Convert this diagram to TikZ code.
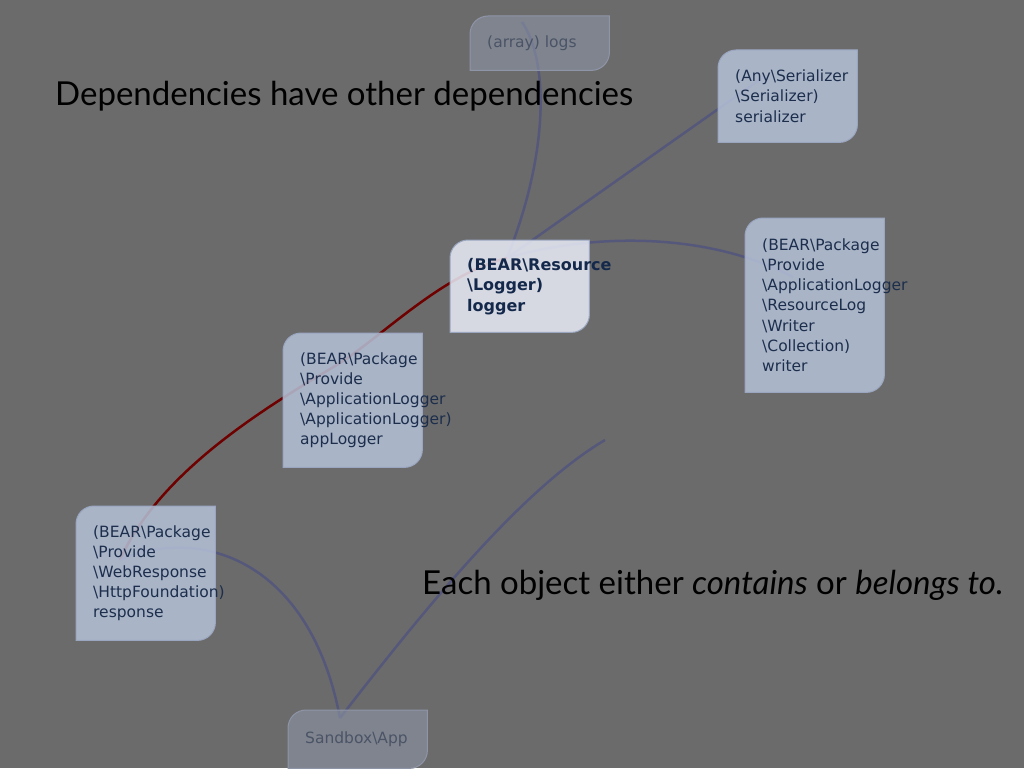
\documentclass[tikz,border=0pt]{standalone}
\usepackage{fontspec}
\setmainfont{DejaVu Sans}
\newfontfamily\headfont{Lato}
\newcommand{\bsl}{\textbackslash}
\hyphenpenalty=10000
\exhyphenpenalty=10000

\definecolor{slide}{HTML}{6B6B6B}
\definecolor{objfill}{HTML}{B5C1D8}
\definecolor{hotfill}{HTML}{E9ECF7}
\definecolor{fadefill}{HTML}{8E95A7}
\definecolor{objedge}{HTML}{9AA6C0}
\definecolor{objtext}{HTML}{1C2E4C}
\definecolor{hottext}{HTML}{13284A}
\definecolor{fadetext}{HTML}{4A5466}
\definecolor{depline}{HTML}{55587A}
\definecolor{hotline}{HTML}{6E0000}

\pgfdeclarelayer{bgl}
\pgfdeclarelayer{edges}
\pgfdeclarelayer{boxes}
\pgfsetlayers{bgl,edges,boxes,main}

\begin{document}
\begin{tikzpicture}[x=1pt, y=-1pt,
    obj/.style={anchor=north west, minimum width=139pt, text width=105pt,
        inner xsep=17pt, inner ysep=0pt, align=flush left, text=objtext,
        font=\fontsize{15.5}{20.2}\selectfont},
    hotobj/.style={obj, text=hottext, font=\fontsize{16}{20.5}\selectfont\bfseries},
    fadeobj/.style={obj, text=fadetext},
    objbox/.style={fill=objfill, fill opacity=0.85, draw=objedge, line width=1pt},
    hotbox/.style={objbox, fill=hotfill},
    fadebox/.style={objbox, fill=fadefill, fill opacity=0.6, draw=fadefill},
    heading/.style={anchor=base west, inner sep=0pt, font=\headfont\fontsize{33}{40}\selectfont},
    dep/.style={draw=depline, line width=2.5pt},
    hot/.style={draw=hotline, line width=2.5pt},
]
    \useasboundingbox (0,0) rectangle (1024,768);
    \begin{pgfonlayer}{bgl}
        \fill[slide] (0,0) rectangle (1024,768);
    \end{pgfonlayer}

    \node[fadeobj, minimum height=54pt] (logs) at (470,16) {(array) logs};
    \node[obj, minimum height=92pt] (serializer) at (718,50)
        {(Any\bsl Serializer\\\bsl Serializer)\\serializer};
    \node[hotobj, minimum height=92pt] (logger) at (450,240)
        {(BEAR\bsl Resource\\\bsl Logger)\\logger};
    \node[obj, minimum height=174pt] (writer) at (745,218)
        {(BEAR\bsl Package\\\bsl Provide\\\bsl ApplicationLogger\\\bsl ResourceLog\\\bsl Writer\\\bsl Collection)\\writer};
    \node[obj, minimum height=134pt] (appLogger) at (283,333)
        {(BEAR\bsl Package\\\bsl Provide\\\bsl ApplicationLogger\\\bsl ApplicationLogger)\\appLogger};
    \node[obj, minimum height=134pt] (response) at (76,506)
        {(BEAR\bsl Package\\\bsl Provide\\\bsl WebResponse\\\bsl HttpFoundation)\\response};
    \node[fadeobj, minimum height=58pt] (sandbox) at (288,710) {Sandbox\bsl App};

    \begin{pgfonlayer}{boxes}
        \foreach \n/\s in {logs/fadebox, serializer/objbox, logger/hotbox, writer/objbox,
                appLogger/objbox, response/objbox, sandbox/fadebox}
            \path[\s] (\n.south west) -- ([yshift=-18pt]\n.north west)
                arc[start angle=180, end angle=270, radius=18] -- (\n.north east)
                -- ([yshift=18pt]\n.south east)
                arc[start angle=0, end angle=90, radius=18] -- cycle;
    \end{pgfonlayer}

    \path ([shift={(52,6)}]logs.north west) coordinate (logs-hub);
    \path ([shift={(57,18)}]logger.north west) coordinate (logger-hub);
    \path ([shift={(47,26)}]serializer.north west) coordinate (serializer-hub);
    \path ([shift={(48,59)}]writer.north west) coordinate (writer-hub);
    \path ([shift={(52,33)}]appLogger.north west) coordinate (appLogger-hub);
    \path ([shift={(44,54)}]response.north west) coordinate (response-hub);
    \path ([shift={(52,8)}]sandbox.north west) coordinate (sandbox-hub);
    \coordinate (loose-end) at (605,440);

    \begin{pgfonlayer}{edges}
        \draw[dep] (logs-hub) .. controls +(26,38) and +(43,-108) .. (logger-hub);
        \draw[dep] (logger-hub) -- (serializer-hub);
        \draw[dep] (logger-hub) .. controls +(73,-22) and +(-93,-49) .. (writer-hub);
        \draw[hot] (response-hub) .. controls +(40,-90) and +(-65,39) .. (appLogger-hub);
        \draw[hot] (appLogger-hub) .. controls +(45,-27) and +(-67,17) .. (logger-hub);
        \draw[dep] (response-hub) .. controls +(80,-35) and +(-30,-158) .. (sandbox-hub);
        \draw[dep] (sandbox-hub) .. controls +(80,-103) and +(-85,50) .. (loose-end);
    \end{pgfonlayer}

    \node[heading] (title) at (55,105) {Dependencies have other dependencies};
    \node[heading] (claim) at (422,594) {Each object either \textit{contains} or \textit{belongs to.}};
\end{tikzpicture}
\end{document}
